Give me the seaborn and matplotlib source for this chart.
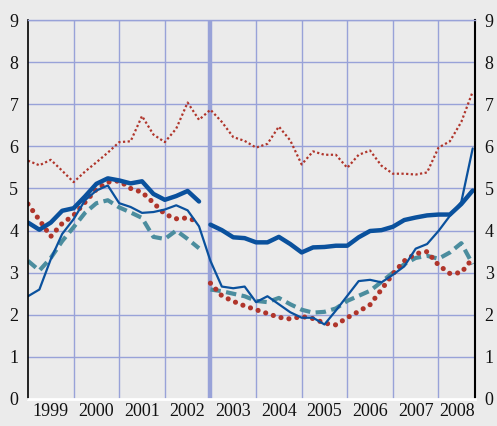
import numpy as np
import pandas as pd
import matplotlib
matplotlib.use("Agg")
import matplotlib.pyplot as plt
import seaborn as sns

# quarterly data 1999Q1 - 2008Q4, series break at 2003Q1
quarters = pd.period_range("1999Q1", "2008Q4", freq="Q")
years = list(range(1999, 2009))
break_q = pd.Period("2003Q1", freq="Q")

thick_blue = [4.19, 4.02, 4.19, 4.47, 4.53, 4.81, 5.11, 5.24, 5.19, 5.12,
              5.17, 4.87, 4.73, 4.82, 4.94, 4.69, 4.14, 4.01, 3.84, 3.82,
              3.72, 3.72, 3.85, 3.68, 3.48, 3.60, 3.61, 3.64, 3.64, 3.84,
              3.99, 4.01, 4.09, 4.25, 4.31, 4.36, 4.38, 4.38, 4.63, 4.95]
thin_blue = [2.44, 2.60, 3.32, 3.92, 4.27, 4.72, 4.95, 5.07, 4.65, 4.56,
             4.42, 4.44, 4.50, 4.60, 4.48, 4.10, 3.28, 2.67, 2.63, 2.67,
             2.30, 2.44, 2.25, 2.06, 1.93, 1.93, 1.77, 2.10, 2.45, 2.80,
             2.83, 2.77, 2.95, 3.15, 3.57, 3.68, 3.99, 4.35, 4.68, 5.95]
red_dots = [4.63, 4.25, 3.86, 4.17, 4.36, 4.67, 4.98, 5.15, 5.18, 5.00,
            4.91, 4.66, 4.39, 4.28, 4.30, 4.20, 2.75, 2.45, 2.32, 2.21,
            2.12, 2.03, 1.94, 1.90, 1.96, 1.91, 1.80, 1.76, 1.93, 2.08,
            2.24, 2.60, 2.97, 3.28, 3.45, 3.50, 3.18, 2.98, 3.00, 3.34]
red_thin = [5.66, 5.55, 5.68, 5.42, 5.15, 5.40, 5.62, 5.85, 6.10, 6.12,
            6.72, 6.28, 6.10, 6.42, 7.04, 6.63, 6.87, 6.58, 6.22, 6.13,
            5.97, 6.06, 6.47, 6.14, 5.57, 5.88, 5.80, 5.80, 5.49, 5.80,
            5.90, 5.54, 5.35, 5.35, 5.33, 5.38, 5.97, 6.12, 6.58, 7.30]
teal = [3.28, 3.05, 3.35, 3.75, 4.08, 4.42, 4.65, 4.72, 4.55, 4.43,
        4.30, 3.85, 3.80, 4.00, 3.80, 3.58, 2.60, 2.56, 2.50, 2.44,
        2.33, 2.30, 2.40, 2.25, 2.12, 2.05, 2.07, 2.15, 2.33, 2.45,
        2.57, 2.78, 3.00, 3.20, 3.35, 3.40, 3.33, 3.48, 3.70, 3.20]

df = pd.DataFrame({"pos": np.arange(len(quarters)),
                   "seg": (quarters >= break_q).astype(int),
                   "thick_blue": thick_blue, "thin_blue": thin_blue,
                   "red_dots": red_dots, "red_thin": red_thin, "teal": teal})

bg = "#ebebeb"
grid_col = "#98a2d8"
blue = "#0a519d"
red = "#b0352b"
teal_col = "#4b8d9e"

sns.set_style("white")
plt.rcParams["font.family"] = ["Liberation Serif", "DejaVu Serif"]

fig = plt.figure(figsize=(4.97, 4.26), dpi=100, facecolor=bg)
ax = fig.add_axes([0.0563, 0.0634, 0.8994, 0.8896])
ax.set_facecolor(bg)

# grid (year boundaries + integer levels), thicker line at the series break
for i in range(4, len(quarters), 4):
    ax.axvline(i, color=grid_col, lw=1.0, zorder=0)
for v in range(1, 10):
    ax.axhline(v, color=grid_col, lw=1.0, zorder=0)
ax.axvline(quarters.get_loc(break_q), color=grid_col, lw=3.2, zorder=0)

sns.lineplot(data=df, x="pos", y="red_thin", color=red, lw=1.6,
             linestyle=(0, (1, 1.1)), ax=ax)
sns.lineplot(data=df, x="pos", y="teal", units="seg", estimator=None,
             color=teal_col, lw=3.0, linestyle=(0, (2.5, 1.3)), ax=ax)
sns.lineplot(data=df, x="pos", y="red_dots", units="seg", estimator=None,
             color=red, lw=3.7, linestyle=(0, (0.01, 1.55)),
             dash_capstyle="round", ax=ax)
sns.lineplot(data=df, x="pos", y="thin_blue", color=blue, lw=1.6, ax=ax)
sns.lineplot(data=df, x="pos", y="thick_blue", units="seg", estimator=None,
             color=blue, lw=3.2, ax=ax)

ax.set_xlim(0, len(quarters) - 0.8)
ax.set_ylim(0, 9)
ax.set_xlabel("")
ax.set_ylabel("")

ax.set_yticks(range(0, 10))
ax.tick_params(axis="y", length=0, labelsize=13, labelright=True,
               pad=7, labelcolor="#111111")

# year boundaries as ticks, year labels centred between them
ax.set_xticks(np.arange(0, len(quarters), 4))
ax.set_xticklabels([])
ax.tick_params(axis="x", which="major", length=7, width=1.2,
               color="black", direction="out")
end = len(quarters) - 0.8
centers = [min(i + 2, (i + end) / 2) for i in range(0, len(quarters), 4)]
ax.set_xticks(centers, minor=True)
ax.set_xticklabels([str(y) for y in years], minor=True)
ax.tick_params(axis="x", which="minor", length=0, labelsize=13, pad=3,
               labelcolor="#111111")

ax.spines["left"].set_color("black")
ax.spines["left"].set_linewidth(1.2)
ax.spines["right"].set_color("black")
ax.spines["right"].set_linewidth(1.5)
ax.spines["top"].set_color(grid_col)
ax.spines["top"].set_linewidth(1.0)
ax.spines["bottom"].set_color("white")
ax.spines["bottom"].set_linewidth(2.0)

if ax.get_legend() is not None:
    ax.get_legend().remove()

fig.savefig("out.png", dpi=100, facecolor=bg)
